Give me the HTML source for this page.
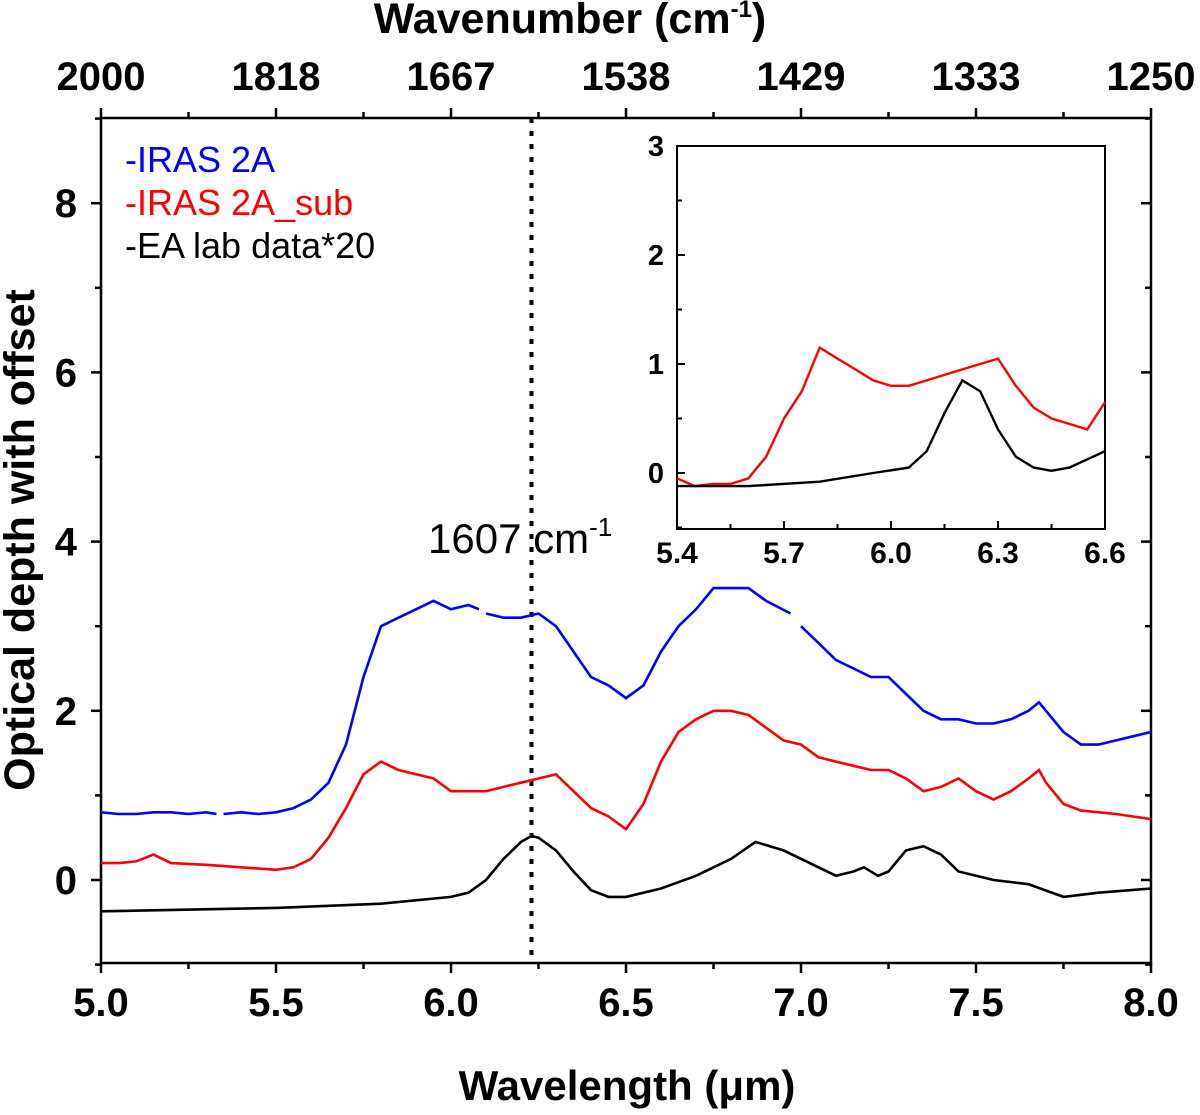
<!DOCTYPE html>
<html><head><meta charset="utf-8"><style>
body{margin:0;background:#fff}
svg{display:block;font-family:"Liberation Sans",Arial,sans-serif}
</style></head><body>
<svg id="c" width="1200" height="1115" viewBox="0 0 1200 1115"></svg>
<script>
const blueX=[5.0,5.05,5.1,5.15,5.2,5.25,5.3,5.33,null,5.35,5.4,5.45,5.5,5.55,5.6,5.65,5.7,5.75,5.8,5.85,5.9,5.95,6.0,6.05,6.08,null,6.1,6.15,6.2,6.25,6.3,6.35,6.4,6.45,6.5,6.55,6.6,6.65,6.7,6.75,6.8,6.85,6.9,6.97,null,7.0,7.05,7.1,7.15,7.2,7.25,7.3,7.35,7.4,7.45,7.5,7.55,7.6,7.65,7.68,7.7,7.75,7.8,7.85,7.9,7.95,8.0];
const blueY=[0.8,0.78,0.78,0.8,0.8,0.78,0.8,0.78,null,0.78,0.8,0.78,0.8,0.85,0.95,1.15,1.6,2.4,3.0,3.1,3.2,3.3,3.2,3.25,3.2,null,3.15,3.1,3.1,3.15,3.0,2.7,2.4,2.3,2.15,2.3,2.7,3.0,3.2,3.45,3.45,3.45,3.3,3.15,null,3.0,2.8,2.6,2.5,2.4,2.4,2.2,2.0,1.9,1.9,1.85,1.85,1.9,2.0,2.1,2.0,1.75,1.6,1.6,1.65,1.7,1.75];
const redX=[5.0,5.05,5.1,5.15,5.2,5.3,5.4,5.5,5.55,5.6,5.65,5.7,5.75,5.8,5.85,5.9,5.95,6.0,6.05,6.1,6.15,6.2,6.25,6.3,6.35,6.4,6.45,6.5,6.55,6.6,6.65,6.7,6.75,6.8,6.85,6.9,6.95,7.0,7.05,7.1,7.15,7.2,7.25,7.3,7.35,7.4,7.45,7.5,7.55,7.6,7.65,7.68,7.7,7.75,7.8,7.9,8.0];
const redY=[0.2,0.2,0.22,0.3,0.2,0.18,0.15,0.12,0.15,0.25,0.5,0.85,1.25,1.4,1.3,1.25,1.2,1.05,1.05,1.05,1.1,1.15,1.2,1.25,1.05,0.85,0.75,0.6,0.9,1.4,1.75,1.9,2.0,2.0,1.95,1.8,1.65,1.6,1.45,1.4,1.35,1.3,1.3,1.2,1.05,1.1,1.2,1.05,0.95,1.05,1.2,1.3,1.15,0.9,0.82,0.78,0.72];
const blackX=[5.0,5.5,5.8,6.0,6.05,6.1,6.15,6.2,6.23,6.25,6.3,6.35,6.4,6.45,6.5,6.6,6.7,6.8,6.87,6.95,7.05,7.1,7.15,7.18,7.22,7.25,7.3,7.35,7.4,7.45,7.55,7.65,7.75,7.85,8.0];
const blackY=[-0.37,-0.33,-0.28,-0.2,-0.15,0.0,0.25,0.45,0.52,0.5,0.35,0.1,-0.12,-0.2,-0.2,-0.1,0.05,0.25,0.45,0.35,0.15,0.05,0.1,0.15,0.05,0.1,0.35,0.4,0.3,0.1,0.0,-0.05,-0.2,-0.15,-0.1];
const insRedX=[5.4,5.45,5.5,5.55,5.6,5.65,5.7,5.75,5.8,5.85,5.9,5.95,6.0,6.05,6.1,6.15,6.2,6.25,6.3,6.35,6.4,6.45,6.5,6.55,6.6];
const insRedY=[-0.05,-0.12,-0.1,-0.1,-0.05,0.15,0.5,0.75,1.15,1.05,0.95,0.85,0.8,0.8,0.85,0.9,0.95,1.0,1.05,0.8,0.6,0.5,0.45,0.4,0.65];
const insBlackX=[5.4,5.6,5.8,5.95,6.05,6.1,6.15,6.2,6.25,6.3,6.35,6.4,6.45,6.5,6.6];
const insBlackY=[-0.12,-0.12,-0.08,0.0,0.05,0.2,0.55,0.85,0.75,0.4,0.15,0.05,0.02,0.05,0.2];
const xTicks=[5.0,5.5,6.0,6.5,7.0,7.5,8.0];
const topLabels=["2000","1818","1667","1538","1429","1333","1250"];
const yTicks=[0,2,4,6,8];
const insXTicks=[5.4,5.7,6.0,6.3,6.6];
const insYTicks=[0,1,2,3];

const svg=document.getElementById('c');
const NS='http://www.w3.org/2000/svg';
function el(t,a,txt){const e=document.createElementNS(NS,t);for(const k in a)e.setAttribute(k,a[k]);if(txt!==undefined)e.textContent=txt;svg.appendChild(e);return e;}
const X=v=>101+(v-5)/3*1050;
const Y=v=>880-v*84.6;
const IX=v=>677+(v-5.4)/1.2*428;
const IY=v=>473-v*109;

function path(xs,ys,fx,fy){let d='',m=true;for(let i=0;i<xs.length;i++){if(xs[i]===null){m=true;continue;}d+=(m?'M':'L')+fx(xs[i]).toFixed(1)+','+fy(ys[i]).toFixed(1);m=false;}return d;}

let f=el('rect',{x:101,y:118,width:1050,height:845,fill:'none',stroke:'#000','stroke-width':2.5});

for(let v=5;v<=8.001;v+=0.25){const maj=Math.abs(v*2-Math.round(v*2))<1e-6;const L=maj?10:6;
 let t=el('line',{x1:X(v),x2:X(v),y1:963,y2:963+L,stroke:'#000','stroke-width':2.5});
 let t2=el('line',{x1:X(v),x2:X(v),y1:118,y2:118-L,stroke:'#000','stroke-width':2.5});}
xTicks.forEach((v,i)=>{
 let l=el('text',{x:X(v),y:1016,'font-size':40,'font-weight':'bold','text-anchor':'middle'},v.toFixed(1));
 let t=el('text',{x:X(v),y:90,'font-size':40,'font-weight':'bold','text-anchor':'middle'},topLabels[i]);
});
for(let v=-1;v<=9;v+=1){const maj=v%2===0;const L=maj?10:6;
 let t=el('line',{x1:101-L,x2:101,y1:Y(v),y2:Y(v),stroke:'#000','stroke-width':2.5});
 let t2=el('line',{x1:1151-L,x2:1151,y1:Y(v),y2:Y(v),stroke:'#000','stroke-width':2.5});}
yTicks.forEach(v=>{let l=el('text',{x:77,y:Y(v)+14,'font-size':40,'font-weight':'bold','text-anchor':'end'},String(v));});
let xt=el('text',{x:627,y:1100,'font-size':42,'font-weight':'bold','text-anchor':'middle'},'Wavelength (μm)');
let tt=el('text',{x:570,y:33,'font-size':43,'font-weight':'bold','text-anchor':'middle'});
tt.innerHTML='Wavenumber (cm<tspan font-size="24" dy="-16">-1</tspan><tspan dy="16">)</tspan>';
let yt=el('text',{x:0,y:0,'font-size':43,'font-weight':'bold','text-anchor':'middle',transform:'translate(34,540) rotate(-90)'},'Optical depth with offset');

let dl=el('line',{x1:X(6.23),x2:X(6.23),y1:118,y2:963,stroke:'#000','stroke-width':4,'stroke-dasharray':'5,8'});
let dt=el('text',{x:428,y:553,'font-size':42});
dt.innerHTML='1607 cm<tspan font-size="26" dy="-17">-1</tspan>';

let pb=el('path',{d:path(blueX,blueY,X,Y),fill:'none',stroke:'#0000ff','stroke-width':2.6});
let pr=el('path',{d:path(redX,redY,X,Y),fill:'none',stroke:'#ff0000','stroke-width':2.6});
let pk=el('path',{d:path(blackX,blackY,X,Y),fill:'none',stroke:'#000','stroke-width':2.6});

const leg=[['-IRAS 2A','#0000ff',172],['-IRAS 2A_sub','#ff0000',215],['-EA lab data*20','#000',258]];
leg.forEach(a=>{let t=el('text',{x:125,y:a[2],'font-size':36,fill:a[1]},a[0]);});

let ir=el('rect',{x:677,y:146,width:428,height:383,fill:'#fff',stroke:'#000','stroke-width':2});
for(let v=5.4;v<=6.6001;v+=0.15){const maj=Math.abs(v*10/3-Math.round(v*10/3))<1e-6;
 let t=el('line',{x1:IX(v),x2:IX(v),y1:529,y2:529-(maj?8:5),stroke:'#000','stroke-width':2});}
insXTicks.forEach(v=>{let l=el('text',{x:IX(v),y:563,'font-size':30,'font-weight':'bold','text-anchor':'middle'},v.toFixed(1));});
for(let v=-0.5;v<=3.001;v+=0.5){const maj=Math.abs(v-Math.round(v))<1e-6;
 let t=el('line',{x1:677,x2:677+(maj?8:5),y1:IY(v),y2:IY(v),stroke:'#000','stroke-width':2});}
insYTicks.forEach(v=>{let l=el('text',{x:664,y:IY(v)+10,'font-size':29,'font-weight':'bold','text-anchor':'end'},String(v));});
let ipr=el('path',{d:path(insRedX,insRedY,IX,IY),fill:'none',stroke:'#ff0000','stroke-width':2.4});
let ipk=el('path',{d:path(insBlackX,insBlackY,IX,IY),fill:'none',stroke:'#000','stroke-width':2.4});
</script>
</body></html>
